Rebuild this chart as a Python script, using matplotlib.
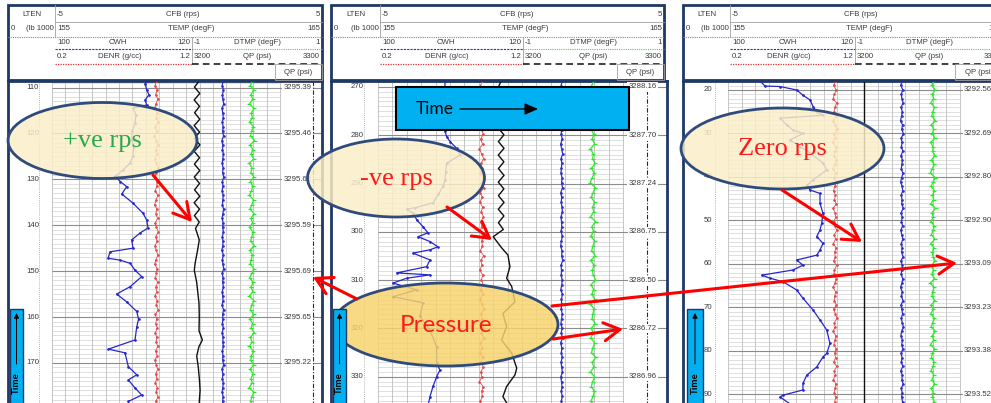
import numpy as np
import matplotlib
matplotlib.use("Agg")
import matplotlib.pyplot as plt
from matplotlib.colors import to_rgba
from matplotlib.patches import Ellipse, Rectangle, FancyArrowPatch, ArrowStyle

W, H = 991, 403

# Track positions are in grid divisions (17 divisions across the main track);
# the vertical axis is the time index printed in the left column of each log.

# ---------------- log 1 : positive rotation ----------------
p1_cwh_idx = [108.6, 109.2, 110.5, 111.6, 112.7, 113.8, 114.5, 116.0, 117.8, 119.5, 121.4, 123.0,
              125.0, 126.5, 128.0, 129.4, 130.5, 131.6, 133.2, 135.2, 137.4, 138.9, 140.6, 141.7,
              143.2, 145.0, 145.8, 147.2, 147.6, 148.3, 149.8, 151.2, 153.4, 155.0, 156.7, 158.8,
              160.5, 162.1, 165.0, 167.0, 167.8, 170.8, 172.6, 173.7, 175.5, 177.0, 178.4, 179.4]
p1_cwh = [7.10, 6.94, 7.06, 7.23, 6.94, 7.06, 6.04, 6.25, 6.19, 5.98, 5.94, 6.10,
          6.02, 5.80, 5.29, 4.70, 5.10, 5.57, 5.20, 6.04, 6.79, 7.06, 7.16, 6.56,
          5.94, 6.04, 4.33, 4.18, 5.07, 5.82, 6.19, 6.69, 5.82, 4.82, 5.57, 6.32,
          6.45, 6.32, 6.19, 4.20, 5.44, 5.69, 6.32, 5.69, 6.20, 6.69, 5.69, 5.80]
p1_cfb_idx = [108.5, 109.9, 111.3, 112.7, 114.1, 115.5, 116.9, 118.3, 119.7, 121.1, 122.5, 123.9,
              125.3, 126.7, 128.1, 129.5, 130.9, 132.3, 133.7, 135.1, 136.5, 137.9, 139.3, 140.7,
              143.2, 145.5, 148.3, 149.8, 152.5, 157.0, 160.0, 163.0, 165.0, 166.5, 168.5, 171.0,
              174.0, 176.0, 178.4, 179.5]
p1_cfb = [11.00, 10.62, 11.02, 10.60, 11.00, 10.63, 11.02, 10.60, 11.00, 10.62, 11.03, 10.60,
          11.00, 10.62, 11.02, 10.61, 11.00, 10.63, 11.02, 10.60, 11.00, 10.62, 10.98, 10.70,
          10.98, 10.85, 10.67, 10.61, 10.79, 10.96, 10.98, 10.96, 11.21, 10.95, 10.79, 10.91,
          11.00, 11.04, 10.98, 11.00]
p1_denr = [7.80, 7.68, 7.85, 7.72, 7.90, 7.74, 7.66, 7.83, 7.77, 7.92, 7.70, 7.81, 7.64, 7.79,
           7.88, 7.73, 7.84, 7.69, 7.78, 7.91, 7.75, 7.67, 7.86, 7.80, 7.71, 7.89, 7.76, 7.65,
           7.82, 7.74, 7.87, 7.70, 7.79, 7.93, 7.72, 7.84, 7.68, 7.77, 7.90, 7.75, 7.66, 7.83,
           7.79, 7.71, 7.88, 7.74, 7.81, 7.67, 7.85, 7.78, 7.92, 7.70, 7.80, 7.73, 7.86, 7.69,
           7.82, 7.76, 7.89, 7.72, 7.84, 7.66, 7.79, 7.87, 7.74, 7.81, 7.70, 7.85, 7.77, 7.91,
           7.73, 7.80]
p1_temp = [12.75, 12.69, 12.78, 12.71, 12.74, 12.80, 12.68, 12.73, 12.77, 12.70, 12.76, 12.72,
           12.79, 12.67, 12.74, 12.71, 12.78, 12.73, 12.69, 12.76, 12.72, 12.80, 12.70, 12.75,
           12.68, 12.77, 12.73, 12.71, 12.79, 12.74, 12.69, 12.76, 12.72, 12.78, 12.70, 12.75,
           12.73, 12.67, 12.77, 12.71, 12.74, 12.80, 12.69, 12.76, 12.72, 12.78, 12.70, 12.73,
           12.75, 12.68, 12.79, 12.72, 12.74, 12.71, 12.77, 12.69, 12.76, 12.73, 12.78, 12.70,
           12.75, 12.72, 12.80, 12.68, 12.74, 12.71, 12.77, 12.73, 12.69, 12.76, 12.72, 12.75]
p1_dtmp = [14.95, 14.78, 15.05, 14.82, 14.99, 14.71, 15.08, 14.86, 14.93, 14.74, 15.02, 14.88,
           14.80, 15.10, 14.76, 14.97, 14.85, 15.04, 14.70, 14.92, 14.83, 15.06, 14.79, 14.98,
           14.87, 14.72, 15.03, 14.90, 14.77, 15.07, 14.84, 14.96, 14.73, 15.01, 14.89, 14.81,
           15.09, 14.75, 14.94, 14.86, 14.78, 15.05, 14.91, 14.74, 15.00, 14.83, 14.97, 14.71,
           15.06, 14.88, 14.80, 15.03, 14.76, 14.95, 14.85, 15.08, 14.79, 14.92, 14.72, 15.02,
           14.87, 14.82, 15.04, 14.77, 14.99, 14.84, 14.93, 14.70, 15.05, 14.90, 14.81, 14.96]
p1_qp_pos = 19.46
p1_major = [110, 120, 130, 140, 150, 160, 170]
p1_qp = [3295.39, 3295.46, 3295.63, 3295.59, 3295.69, 3295.65, 3295.22]

# ---------------- log 2 : negative rotation ----------------
p2_cwh_idx = [268.7, 279.2, 280.3, 281.3, 282.7, 284.1, 285.8, 287.5, 289.3, 290.6, 292.2, 294.0,
              295.0, 295.3, 296.1, 297.5, 298.9, 300.2, 301.0, 302.0, 303.1, 303.7, 304.4, 305.8,
              307.2, 308.5, 308.9, 309.6, 310.6, 312.0, 313.4, 314.7, 317.5, 320.3, 323.8, 327.2,
              328.6, 330.0, 332.0, 334.1, 336.0]
p2_cwh = [4.65, 4.65, 4.77, 5.00, 5.46, 5.69, 4.77, 4.70, 4.65, 4.51, 4.20, 3.82,
          2.57, 1.99, 2.43, 2.69, 3.12, 3.47, 2.78, 3.61, 4.16, 3.61, 2.43, 3.61,
          3.38, 1.30, 3.61, 1.99, 1.04, 2.69, 1.04, 3.12, 2.91, 3.61, 4.07, 4.07,
          4.30, 4.07, 3.82, 3.61, 3.47]
p2_cfb_idx = [268.7, 270.1, 271.5, 272.9, 274.3, 275.7, 277.1, 278.5, 279.9, 281.3, 282.7, 284.1,
              285.5, 286.9, 288.3, 289.7, 291.1, 292.5, 293.9, 295.3, 296.7, 298.1, 299.5, 301.0,
              303.3, 304.8, 307.2, 309.6, 311.3, 314.5, 316.9, 319.6, 322.4, 325.1, 328.2, 329.6,
              332.0, 334.1, 335.4, 336.1]
p2_cfb = [8.55, 8.35, 8.75, 8.35, 8.74, 8.36, 8.75, 8.35, 8.74, 8.36, 8.75, 8.35,
          8.74, 8.36, 8.75, 8.35, 8.74, 8.36, 8.75, 8.35, 8.74, 8.36, 8.70, 8.00,
          8.58, 9.02, 9.16, 8.93, 9.28, 9.51, 8.67, 8.93, 8.58, 9.28, 9.63, 9.51,
          8.93, 8.67, 8.93, 8.81]
p2_denr = [7.25, 7.10, 7.31, 7.14, 7.22, 7.05, 7.28, 7.17, 7.35, 7.09, 7.20, 7.30, 7.12, 7.26,
           7.04, 7.19, 7.33, 7.15, 7.24, 7.08, 7.29, 7.18, 7.36, 7.11, 7.23, 7.06, 7.27, 7.16,
           7.32, 7.13, 7.21, 7.07, 7.30, 7.19, 7.25, 7.10, 7.34, 7.14, 7.22, 7.05, 7.28, 7.17,
           7.31, 7.12, 7.26, 7.09, 7.20, 7.33, 7.15, 7.24, 7.08, 7.29, 7.18, 7.35, 7.11, 7.23,
           7.06, 7.27, 7.16, 7.32, 7.13, 7.21, 7.04, 7.30, 7.19, 7.25, 7.10, 7.22]
p2_temp = [12.78, 12.71, 12.75, 12.81, 12.70, 12.76, 12.73, 12.80, 12.69, 12.77, 12.74, 12.72,
           12.79, 12.68, 12.75, 12.82, 12.71, 12.76, 12.73, 12.70, 12.78, 12.74, 12.81, 12.69,
           12.75, 12.72, 12.77, 12.80, 12.70, 12.74, 12.76, 12.71, 12.79, 12.73, 12.68, 12.77,
           12.75, 12.82, 12.70, 12.74, 12.72, 12.78, 12.76, 12.69, 12.80, 12.73, 12.75, 12.71,
           12.79, 12.74, 12.70, 12.77, 12.72, 12.81, 12.68, 12.76, 12.73, 12.78, 12.71, 12.75,
           12.80, 12.69, 12.74, 12.77, 12.72, 12.79, 12.73, 12.75]
p2_dtmp = [15.00, 14.82, 15.10, 14.88, 14.97, 14.76, 15.06, 14.91, 14.84, 15.12, 14.79, 14.99,
           14.87, 15.05, 14.74, 14.95, 14.90, 15.08, 14.81, 15.02, 14.86, 14.73, 15.09, 14.93,
           14.80, 15.04, 14.89, 14.98, 14.75, 15.11, 14.85, 14.96, 14.78, 15.03, 14.92, 14.83,
           15.07, 14.77, 15.00, 14.88, 14.94, 15.10, 14.79, 14.97, 14.84, 15.06, 14.72, 15.01,
           14.90, 14.86, 15.08, 14.80, 14.95, 14.76, 15.04, 14.91, 14.82, 15.12, 14.87, 14.99,
           14.74, 15.05, 14.89, 14.81, 15.02, 14.93, 14.78, 15.00]
p2_qp_pos = 18.67
p2_major = [270, 280, 290, 300, 310, 320, 330]
p2_qp = [3288.16, 3287.70, 3287.24, 3286.75, 3286.50, 3286.72, 3286.96]

# ---------------- log 3 : zero rotation ----------------
p3_cwh_idx = [17.9, 19.1, 19.2, 20.0, 21.2, 22.3, 23.8, 25.0, 25.8, 26.5, 28.0, 29.2,
              30.0, 31.5, 33.0, 34.5, 36.8, 38.4, 40.7, 41.9, 43.0, 43.8, 46.1, 48.4,
              50.7, 52.2, 53.7, 55.3, 56.8, 58.0, 59.1, 60.3, 61.4, 62.6, 63.3, 64.1,
              66.0, 67.9, 70.6, 72.9, 75.2, 78.3, 80.6, 81.4, 83.7, 85.6, 87.5, 89.0,
              90.2, 90.6, 92.7]
p3_cwh = [2.34, 2.71, 3.81, 5.03, 5.49, 6.01, 6.23, 6.50, 6.96, 3.81, 4.30, 4.76,
          5.49, 4.54, 5.27, 6.01, 6.96, 7.23, 6.23, 5.77, 6.01, 6.74, 6.74, 6.96,
          6.86, 6.74, 6.50, 6.96, 6.74, 6.50, 5.03, 5.49, 4.76, 2.47, 3.08, 4.03,
          5.03, 5.49, 6.23, 6.74, 7.23, 7.47, 7.23, 6.96, 6.50, 5.77, 5.49, 5.49,
          4.03, 3.81, 4.76]
p3_cfb_idx = [17.9, 92.7]
p3_cfb = [10.0, 10.0]
p3_denr = [7.88, 7.74, 7.92, 7.80, 7.70, 7.95, 7.83, 7.77, 7.90, 7.72, 7.86, 7.98, 7.79, 7.85,
           7.68, 7.91, 7.81, 7.76, 7.94, 7.84, 7.71, 7.89, 7.78, 7.96, 7.82, 7.73, 7.87, 7.80,
           7.93, 7.69, 7.85, 7.90, 7.75, 7.83, 7.97, 7.79, 7.88, 7.72, 7.91, 7.81, 7.86, 7.74,
           7.95, 7.80, 7.77, 7.92, 7.84, 7.70, 7.89, 7.82, 7.78, 7.94, 7.73, 7.87, 7.99, 7.80,
           7.85, 7.71, 7.90, 7.83, 7.76, 7.93, 7.81, 7.88, 7.74, 7.96, 7.79, 7.86, 7.72, 7.91,
           7.84, 7.78, 7.89, 7.82, 7.87]
p3_temp = [12.76, 12.66, 12.80, 12.70, 12.74, 12.83, 12.68, 12.77, 12.72, 12.64, 12.79, 12.73,
           12.85, 12.69, 12.75, 12.71, 12.81, 12.67, 12.78, 12.74, 12.70, 12.82, 12.72, 12.65,
           12.76, 12.80, 12.69, 12.75, 12.73, 12.84, 12.68, 12.77, 12.71, 12.79, 12.66, 12.74,
           12.81, 12.70, 12.76, 12.72, 12.83, 12.67, 12.78, 12.73, 12.69, 12.80, 12.75, 12.64,
           12.77, 12.71, 12.82, 12.68, 12.74, 12.79, 12.70, 12.76, 12.85, 12.72, 12.67, 12.78,
           12.73, 12.81, 12.69, 12.75, 12.71, 12.80, 12.66, 12.77, 12.74, 12.83, 12.70, 12.76,
           12.72, 12.79, 12.73]
p3_dtmp = [15.10, 14.92, 15.18, 14.97, 15.06, 14.86, 15.14, 15.00, 14.93, 15.20, 14.89, 15.08,
           14.96, 15.15, 14.84, 15.04, 14.99, 15.17, 14.90, 15.11, 14.95, 14.83, 15.19, 15.02,
           14.88, 15.13, 14.98, 15.07, 14.85, 15.21, 14.94, 15.05, 14.87, 15.12, 15.01, 14.91,
           15.16, 14.86, 15.09, 14.97, 15.03, 15.18, 14.89, 15.06, 14.93, 15.14, 14.82, 15.10,
           14.99, 14.95, 15.17, 14.88, 15.04, 14.85, 15.13, 15.00, 14.90, 15.20, 14.96, 15.08,
           14.84, 15.15, 14.98, 14.91, 15.11, 15.02, 14.87, 15.09, 14.94, 15.16, 14.89, 15.05,
           14.97, 15.12, 15.01]
p3_qp_pos = 19.6
p3_major = [20, 30, 40, 50, 60, 70, 80, 90]
p3_qp = [3292.56, 3292.69, 3292.80, 3292.90, 3293.09, 3293.23, 3293.38, 3293.52]

# header scales: (left value, curve name, right value)
hdr_cfb = ("-5", "CFB (rps)", "5")
hdr_temp = ("155", "TEMP (degF)", "165")
hdr_cwh = ("100", "CWH", "120")
hdr_dtmp = ("-1", "DTMP (degF)", "1")
hdr_denr = ("0.2", "DENR (g/cc)", "1.2")
hdr_qp = ("3200", "QP (psi)", "3300")

NAVY = "#203864"
SMALL = dict(family="Liberation Sans", fontsize=5.6, color="#3a3a3a")

fig = plt.figure(figsize=(W / 100, H / 100), dpi=100)
fig.patch.set_facecolor("white")


def log_body(px_left, px_right, xlim, ylim, cwh_i, cwh, cfb_i, cfb, denr, temp, dtmp,
             qp_pos, majors, qp_vals):
    top_px, bot_px = 81, 406
    ax = fig.add_axes([px_left / W, (H - bot_px) / H, (px_right - px_left) / W,
                       (bot_px - top_px) / H])
    ax.set_xlim(*xlim)
    ax.set_ylim(ylim[1], ylim[0])
    ax.set_xticks([])
    ax.set_yticks([])
    for s in ("left", "right", "top"):
        ax.spines[s].set_color(NAVY)
        ax.spines[s].set_linewidth(2.0)
    ax.spines["bottom"].set_visible(False)

    # grid
    minor = np.arange(np.ceil(ylim[0]), ylim[1] + 1)
    ax.hlines(minor, 0, 17, color="#d2d2d2", lw=0.5, zorder=1)
    ax.vlines(np.arange(0, 18), ylim[0], ylim[1], color="#bdbdbd", lw=0.6, zorder=1)
    ax.hlines(majors, 0, xlim[1], color="#8c8c8c", lw=0.8, zorder=1.5)
    ax.vlines(-0.95, ylim[0], ylim[1], color="#9a9a9a", lw=0.6, ls=(0, (1, 1.5)), zorder=1)
    ax.vlines(qp_pos, ylim[0], ylim[1], color="#2a2a2a", lw=0.8, ls=(0, (4, 1.5, 1, 1.5)),
              zorder=1.5)

    # curves
    idx = lambda v: np.linspace(ylim[0], ylim[1], len(v))
    ax.plot(denr, idx(denr), color="#e04a4a", lw=0.6, marker=".", ms=1.8, zorder=3)
    ax.plot(temp, idx(temp), color="#3030c8", lw=0.9, marker=".", ms=1.8, zorder=3)
    ax.plot(dtmp, idx(dtmp), color="#2ee82e", lw=0.9, marker="_", ms=3.2, mew=0.9, zorder=3)
    ax.plot(cwh, cwh_i, color="#2626cc", lw=0.9, marker=".", ms=1.8, zorder=3)
    ax.plot(cfb, cfb_i, color="#111111", lw=1.0, zorder=3)

    for d, q in zip(majors, qp_vals):
        ax.text(-1.45, d, f"{d}", ha="center", va="center", zorder=4, **SMALL)
        ax.text(19.35, d, f"{q:.2f}", ha="right", va="center", zorder=4,
                bbox=dict(boxstyle="square,pad=0.15", fc="white", ec="none"),
                family="Liberation Sans", fontsize=5.6, color="#3a3a3a")
    return ax


log_body(8, 322, (-3.28, 20.13), (108.58, 179.39), p1_cwh_idx, p1_cwh, p1_cfb_idx, p1_cfb,
         p1_denr, p1_temp, p1_dtmp, p1_qp_pos, p1_major, p1_qp)
log_body(331, 667, (-3.26, 20.06), (268.76, 336.05), p2_cwh_idx, p2_cwh, p2_cfb_idx, p2_cfb,
         p2_denr, p2_temp, p2_dtmp, p2_qp_pos, p2_major, p2_qp)
log_body(683, 1003, (-3.30, 20.15), (17.93, 92.69), p3_cwh_idx, p3_cwh, p3_cfb_idx, p3_cfb,
         p3_denr, p3_temp, p3_dtmp, p3_qp_pos, p3_major, p3_qp)

# overlay in pixel coordinates for headers and call-outs
ov = fig.add_axes([0, 0, 1, 1], zorder=10)
ov.set_xlim(0, W)
ov.set_ylim(H, 0)
ov.axis("off")
ov.patch.set_alpha(0)


def header(x0, xl, xm, x1, xq):
    ov.add_patch(Rectangle((x0, 5), x1 - x0, 75, fc="white", ec=NAVY, lw=2.0, zorder=1))
    ov.plot([xl, x1], [22, 22], color="#a0a0a0", lw=0.6, zorder=2)
    ov.plot([x0, x1], [37, 37], color="#8a7fb0", lw=0.8, ls=(0, (1, 1)), zorder=2)
    ov.plot([xl, xl], [5, 37], color="#a0a0a0", lw=0.6, zorder=2)
    ov.plot([xm, xm], [37, 64], color="#a0a0a0", lw=0.6, zorder=2)
    ov.plot([xl, xm], [49, 49], color="#3030c0", lw=0.8, ls=(0, (2, 1)), zorder=2)
    ov.plot([xm, x1], [49, 49], color="#50d050", lw=0.8, ls=(0, (1, 1)), zorder=2)
    ov.plot([xl, xm], [64, 64], color="#e03030", lw=0.9, ls=(0, (1, 1)), zorder=2)
    ov.plot([xm, x1], [64, 64], color="#202020", lw=1.2, ls=(0, (4, 2.5)), zorder=2)
    ov.add_patch(Rectangle((xq, 64), x1 - xq, 16, fill=False, ec="#a0a0a0", lw=0.6, zorder=2))

    ov.text((x0 + xl) / 2, 14, "LTEN", ha="center", va="center", **SMALL)
    ov.text(x0 + 3, 29, "0", ha="left", va="center", **SMALL)
    ov.text(xl - 1, 29, "(lb 1000", ha="right", va="center", **SMALL)
    rows = [(14, xl, x1, hdr_cfb, 0.48), (29, xl, x1, hdr_temp, 0.51),
            (43, xl, xm, hdr_cwh, 0.46), (43, xm, x1, hdr_dtmp, 0.5),
            (57, xl, xm, hdr_denr, 0.47), (57, xm, x1, hdr_qp, 0.5)]
    for y, a, b, (lo, name, hi), f in rows:
        ov.text(a + 2, y, lo, ha="left", va="center", **SMALL)
        ov.text(a + f * (b - a), y, name, ha="center", va="center", **SMALL)
        ov.text(b - 2, y, hi, ha="right", va="center", **SMALL)
    ov.text((xq + x1) / 2, 72, hdr_qp[1], ha="center", va="center", **SMALL)


header(8, 55, 192, 322, 275)
header(331, 380, 523, 664, 617)
header(683, 730, 855, 1003, 955)

# call-out ellipses
cream = to_rgba("#fbeec6", 0.84)
gold = to_rgba("#f7d36c", 0.84)
callouts = [((102.5, 140.5), 189, 76, cream, "+ve rps", "#2aa84a", "Liberation Serif", 19),
            ((396, 178), 177, 78, cream, "-ve rps", "#ff1a1a", "Liberation Serif", 19),
            ((782.5, 148.5), 203, 81, cream, "Zero rps", "#ff1a1a", "Liberation Serif", 19),
            ((445.5, 324.5), 225, 83, gold, "Pressure", "#ff1a1a", "Lato", 17.5)]
for c, w, h, fc, label, tc, fam, fs in callouts:
    ov.add_patch(Ellipse(c, w, h, fc=fc, ec="#2f4b7c", lw=2.0, zorder=5))
    ov.text(c[0], c[1] + 1, label, ha="center", va="center", color=tc, family=fam,
            fontsize=fs, zorder=6)

# "Time" direction boxes
ov.add_patch(Rectangle((396, 87), 233, 43, fc="#00b0f0", ec="black", lw=1.5, zorder=7))
ov.text(416, 109, "Time", ha="left", va="center", family="Lato", fontsize=12.5,
        color="black", zorder=8)
ov.add_patch(FancyArrowPatch((460, 109), (538, 109), arrowstyle=ArrowStyle(
    "-|>", head_length=8, head_width=3.5), mutation_scale=1, color="black", lw=1.0,
    shrinkA=0, shrinkB=0, zorder=8))
for bx, bw in [(10, 13), (333, 13), (687, 16)]:
    ov.add_patch(Rectangle((bx, 309), bw, 100, fc="#00b0f0", ec=NAVY, lw=1.0, zorder=7))
    ov.text(bx + bw / 2, 383, "Time", rotation=90, ha="center", va="center",
            family="Lato", fontweight="bold", fontsize=7, color="black", zorder=8)
    ov.add_patch(FancyArrowPatch((bx + bw / 2, 364), (bx + bw / 2, 313),
                                 arrowstyle=ArrowStyle("-|>", head_length=3, head_width=1.5),
                                 mutation_scale=1, color="black", lw=0.7,
                                 shrinkA=0, shrinkB=0, zorder=8))

# red pointers
pointers = [((153, 175), (192, 222)), ((447, 207), (492, 240)), ((782, 190), (862, 242)),
            ((357, 299), (313, 277)), ((552, 306), (957, 263)), ((553, 339), (623, 329))]
for a, b in pointers:
    ov.add_patch(FancyArrowPatch(a, b, arrowstyle=ArrowStyle("->", head_length=11.5,
                                                             head_width=6.5),
                                 mutation_scale=1, color="#ff0000", lw=2.2,
                                 shrinkA=0, shrinkB=0, zorder=9))

fig.savefig("out.png", dpi=100)
